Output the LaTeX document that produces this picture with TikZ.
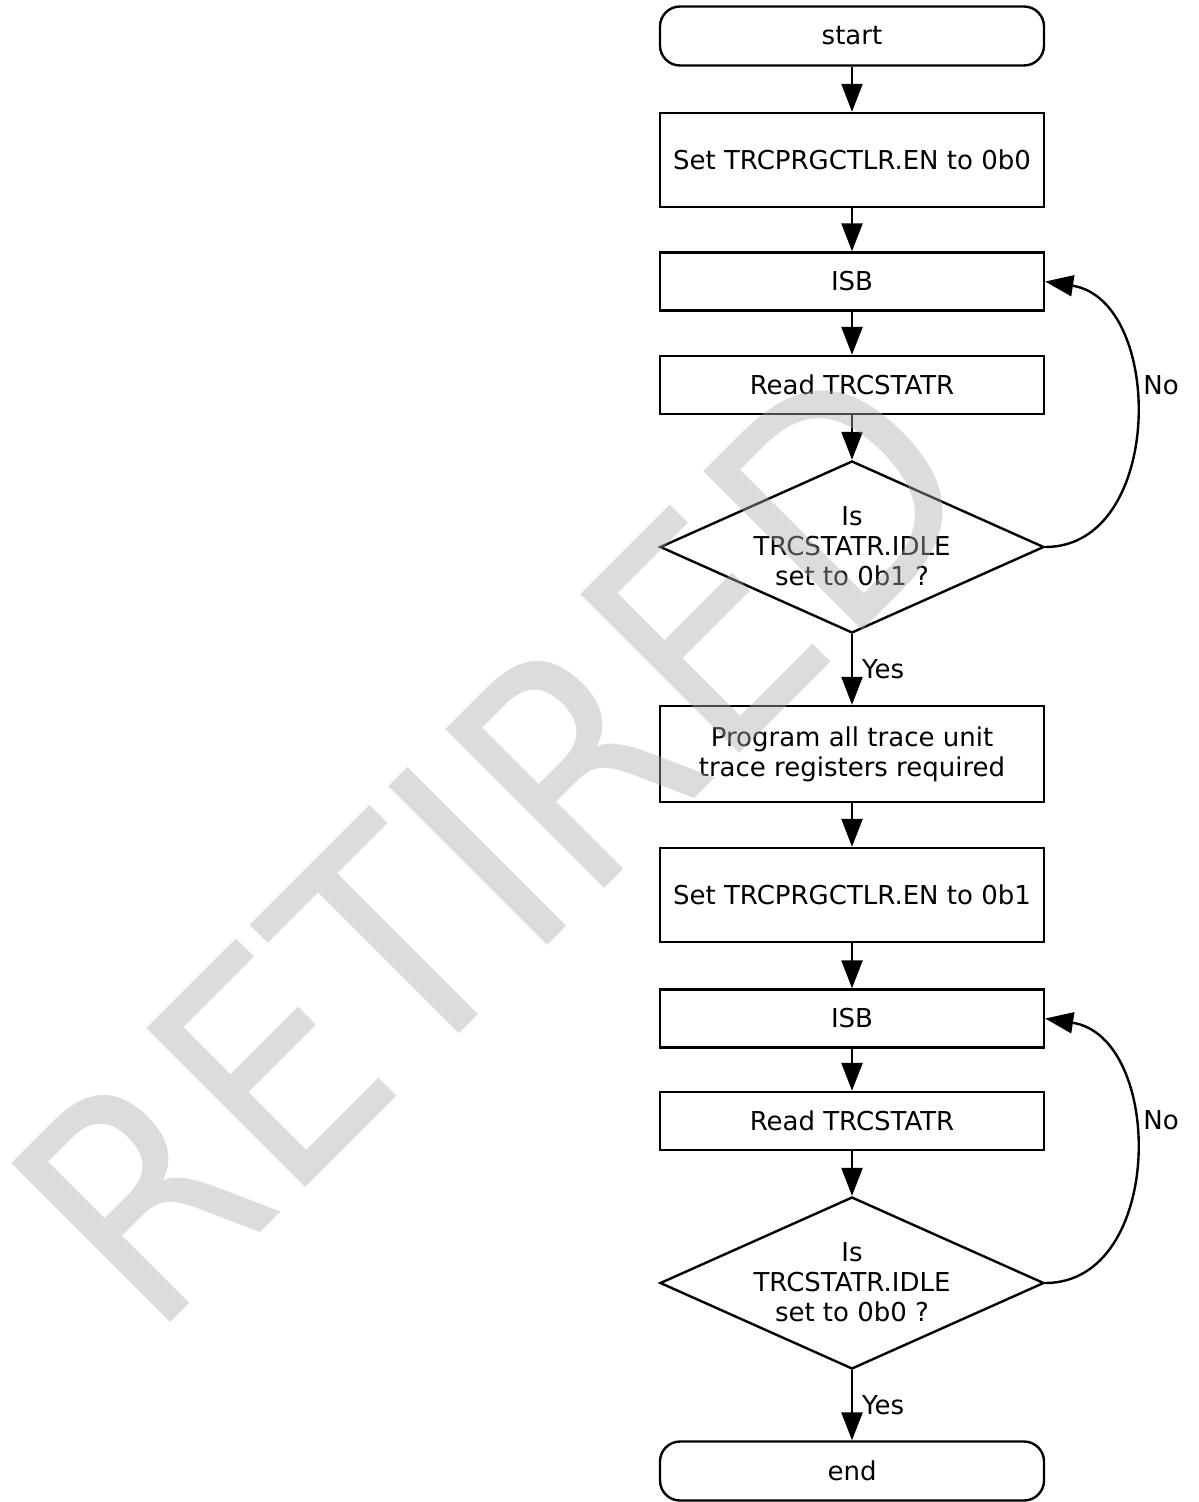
\documentclass[tikz,border=0pt]{standalone}
\usepackage{fontspec}
\setmainfont{DejaVu Sans}
\usetikzlibrary{arrows.meta,shapes.geometric}
\begin{document}
\begin{tikzpicture}[x=0.5pt,y=-0.5pt,
  every node/.style={font=\fontsize{13}{15}\selectfont},
  boxbase/.style={draw, line width=1.2pt, minimum width=192pt, inner sep=0pt, align=center},
  terminal/.style={boxbase, rounded corners=10pt, minimum height=29.5pt},
  proc/.style={boxbase, minimum height=29pt},
  tallproc/.style={boxbase, minimum height=47pt},
  decision/.style={draw, line width=1.2pt, diamond, minimum width=192pt, minimum height=86pt, inner sep=0pt},
  flow/.style={line width=1.2pt, -{Triangle[length=14pt,width=10.5pt]}},
  lbl/.style={inner sep=0pt, anchor=west},
]
\fill[white] (0,0) rectangle (1198,1502);
\useasboundingbox (0,0) rectangle (1198,1502);

\node[terminal] (start) at (852,36) {start};
\node[tallproc] (set0) at (852,160) {Set TRCPRGCTLR.EN to 0b0};
\node[proc] (isb1) at (852,281.5) {ISB};
\node[proc] (read1) at (852,385) {Read TRCSTATR};
\node[decision] (d1) at (852,547) {};
\node[align=center, inner sep=0pt] (d1t) at (852,546) {Is\\TRCSTATR.IDLE\\set to 0b1 ?};
\node[tallproc, minimum height=48pt] (prog) at (852,754) {Program all trace unit\\trace registers required};
\node[tallproc] (set1) at (852,895) {Set TRCPRGCTLR.EN to 0b1};
\node[proc] (isb2) at (852,1018.5) {ISB};
\node[proc] (read2) at (852,1121) {Read TRCSTATR};
\node[decision] (d2) at (852,1283) {};
\node[align=center, inner sep=0pt] (d2t) at (852,1282) {Is\\TRCSTATR.IDLE\\set to 0b0 ?};
\node[terminal] (stop) at (852,1471) {end};

\draw[flow] (start) -- (set0);
\draw[flow] (set0) -- (isb1);
\draw[flow] (isb1) -- (read1);
\draw[flow] (read1) -- (d1.north);
\draw[flow] (d1.south) -- node[lbl, xshift=4.5pt] (yes1) {Yes} (prog.north);
\draw[flow] (prog) -- (set1);
\draw[flow] (set1) -- (isb2);
\draw[flow] (isb2) -- (read2);
\draw[flow] (read2) -- (d2.north);
\draw[flow] (d2.south) -- node[lbl, xshift=4.5pt] (yes2) {Yes} (stop.north);

\draw[flow] (d1.east) .. controls (1165,547) and (1165,300) .. (isb1.east);
\node[lbl] (no1) at (1143,385) {No};
\draw[flow] (d2.east) .. controls (1165,1283) and (1165,1037) .. (isb2.east);
\node[lbl] (no2) at (1143,1120) {No};

\begin{scope}[shift={(151,1342)}, rotate=45, yscale=1.12, transform shape]
\node[anchor=base west, inner sep=0pt, text=gray!65, text opacity=0.42, font=\fontsize{137.5pt}{140pt}\selectfont] (wm) at (0,0) {RETIRED};
\end{scope}
\end{tikzpicture}
\end{document}
